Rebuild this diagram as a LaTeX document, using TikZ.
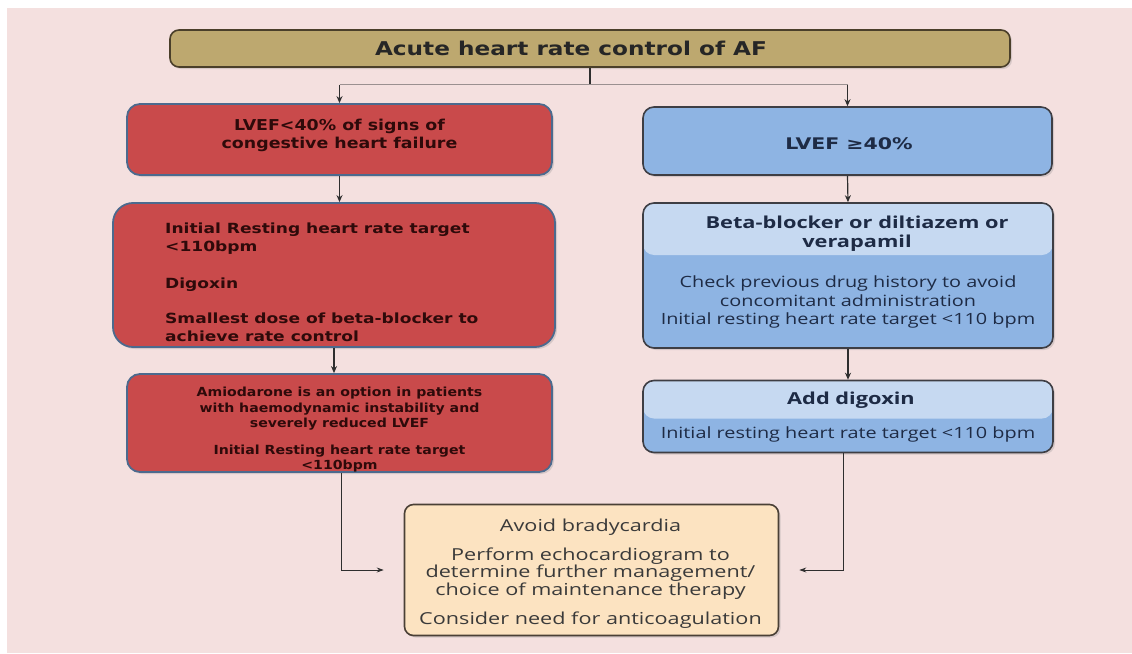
\documentclass[tikz,border=0pt]{standalone}
\usepackage{fontspec}
\setmainfont{DejaVu Sans}
\newfontfamily\titlefont[FakeStretch=1.22]{DejaVu Sans}
\newfontfamily\redA[FakeStretch=1.16]{DejaVu Sans}
\newfontfamily\redB[FakeStretch=1.22]{DejaVu Sans}
\newfontfamily\redC[FakeStretch=1.13]{DejaVu Sans}
\newfontfamily\lvefont[FakeStretch=1.28]{DejaVu Sans}
\newfontfamily\gill[FakeStretch=1.28]{Open Sans}
\newfontfamily\gillB[FakeStretch=1.31]{Open Sans}
\newfontfamily\gillC[FakeStretch=1.32]{Open Sans}
\usetikzlibrary{arrows.meta,shadows,calc}
\definecolor{bg}{HTML}{F4E0DF}
\definecolor{tan}{HTML}{BDA86F}
\definecolor{tanline}{HTML}{4A3F2A}
\definecolor{redfill}{HTML}{C94A4B}
\definecolor{redline}{HTML}{4C6A8E}
\definecolor{redtext}{HTML}{2E0A0A}
\definecolor{bluefill}{HTML}{8EB4E3}
\definecolor{lightblue}{HTML}{C6D9F1}
\definecolor{blueline}{HTML}{3E3E44}
\definecolor{bluetext}{HTML}{1E2B45}
\definecolor{peach}{HTML}{FCE3C1}
\definecolor{peachline}{HTML}{4A4036}
\definecolor{graytext}{HTML}{3A3A3A}
\definecolor{arrowcol}{HTML}{2E2E2E}
\definecolor{branchcol}{HTML}{9A9090}
\tikzset{
  shade/.style={drop shadow={opacity=0.25,shadow xshift=2pt,shadow yshift=-2pt}},
  topbox/.style={draw=tanline,line width=1.6pt,fill=tan,rounded corners=9pt,shade,
    minimum width=840pt,minimum height=37pt},
  redbox/.style={draw=redline,line width=1.8pt,fill=redfill,rounded corners=13pt,shade,
    text=redtext,align=center},
  bluebox/.style={draw=blueline,line width=1.6pt,fill=bluefill,rounded corners=11pt,shade},
  peachbox/.style={draw=peachline,line width=1.6pt,fill=peach,rounded corners=9pt,shade},
  bluetxt/.style={text=bluetext,align=center,inner sep=0pt},
  redtxt/.style={text=redtext,inner sep=0pt},
  arr/.style={draw=arrowcol,line width=1.2pt,-{Stealth[length=7pt,width=6pt]}},
  stub/.style={draw=arrowcol,line width=1.4pt},
  branch/.style={draw=branchcol,line width=1pt},
  thin/.style={draw=arrowcol,line width=0.9pt,-{Stealth[length=7pt,width=5pt]}},
}
\begin{document}
\begin{tikzpicture}[x=1pt,y=-1pt]
\useasboundingbox (0,0) rectangle (1132,653);
\fill[white] (0,0) rectangle (1132,653);
\fill[bg] (7,8) rectangle (1132,653);

% top
\node[topbox] (top) at (590,48.5) {};
\node[text=black!85,inner sep=0pt,font=\titlefont\fontsize{19}{22}\selectfont\bfseries] (topt) at (571,48.5) {Acute heart rate control of AF};

% left column
\node[redbox,minimum width=425pt,minimum height=71pt] (L1) at (339.5,139.5) {};
\node[redtxt,align=center,font=\redA\fontsize{15}{18}\selectfont\bfseries]
  (L1t) at (339.5,135) {LVEF<40\% of signs of\\congestive heart failure};
\node[redbox,rounded corners=20pt,minimum width=442pt,minimum height=144pt] (L2) at (334,275) {};
\node[redtxt,align=left,anchor=north west,font=\redB\fontsize{14}{18}\selectfont\bfseries]
  (L2t) at (165,223) {Initial Resting heart rate target\\<110bpm\\[19pt]Digoxin\\[17pt]Smallest dose of beta-blocker to\\achieve rate control};
\node[redbox,minimum width=425pt,minimum height=98pt] (L3) at (339.5,423) {};
\node[redtxt,align=center,font=\redC\fontsize{12.5}{15.5}\selectfont\bfseries]
  (L3t) at (339.5,430) {Amiodarone is an option in patients\\with haemodynamic instability and\\severely reduced LVEF\\[11pt]Initial Resting heart rate target\\<110bpm};

% right column
\node[bluebox,minimum width=409pt,minimum height=68pt] (R1) at (847.5,141) {};
\node[bluetxt,font=\lvefont\fontsize{16}{18}\selectfont\bfseries] (R1t) at (849,143.5) {LVEF ≥40\%};

\node[bluebox,minimum width=410pt,minimum height=145pt,
  path picture={\fill[lightblue] (path picture bounding box.north west) rectangle ([yshift=-52pt]path picture bounding box.north east);}]
  (R2) at (848,275.5) {};
\node[bluetxt,font=\gillC\fontsize{16.5}{18.5}\selectfont\bfseries] (R2a) at (857,233.5) {Beta-blocker or diltiazem or\\verapamil};
\node[bluetxt,font=\gill\fontsize{15.5}{18.5}\selectfont] (R2b) at (848,302) {Check previous drug history to avoid\\concomitant administration\\Initial resting heart rate target <110 bpm};

\node[bluebox,minimum width=410pt,minimum height=72pt,
  path picture={\fill[lightblue] (path picture bounding box.north west) rectangle ([yshift=-38pt]path picture bounding box.north east);}]
  (R3) at (848,416.5) {};
\node[bluetxt,font=\gillC\fontsize{16.5}{18}\selectfont\bfseries] (R3a) at (851,400) {Add digoxin};
\node[bluetxt,font=\gill\fontsize{15.5}{18}\selectfont] (R3b) at (848,434) {Initial resting heart rate target <110 bpm};

% bottom
\node[peachbox,minimum width=374pt,minimum height=131pt] (B) at (591.5,570) {};
\node[text=graytext,align=center,inner sep=0pt,font=\gillB\fontsize{16.5}{17.5}\selectfont] (Bt) at (590.5,574)
  {Avoid bradycardia\\[11pt]Perform echocardiogram to\\determine further management/\\choice of maintenance therapy\\[12pt]Consider need for anticoagulation};

% connectors
\coordinate (split) at ($(top.south)+(0,17)$);
\coordinate (sL) at (split -| L1.north);
\coordinate (sR) at (split -| R1.north);
\draw[stub] (top.south) -- (split);
\draw[branch] (sL) -- (sR);
\draw[arr] (sL) -- (L1.north);
\draw[arr] (sR) -- (R1.north);
\draw[arr] (L1.south) -- (L1.south |- L2.north);
\draw[arr] (L2.south) -- (L2.south |- L3.north);
\draw[arr] (R1.south) -- (R2.north);
\draw[arr] (R2.south) -- (R3.north);
\coordinate (Lend) at ($(B.west)+(-20,0)$);
\coordinate (Rend) at ($(B.east)+(20,0)$);
\draw[thin] ($(L3.south)+(2,0)$) |- (Lend);
\draw[thin] ($(R3.south)+(-5,0)$) |- (Rend);
\end{tikzpicture}
\end{document}
